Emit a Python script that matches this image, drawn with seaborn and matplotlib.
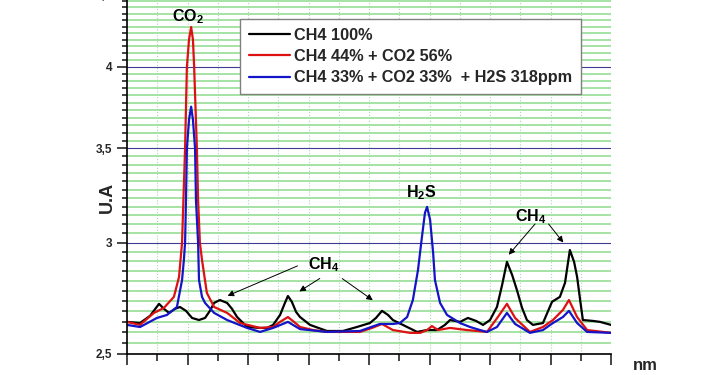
import numpy as np
import matplotlib
matplotlib.use("Agg")
import matplotlib.pyplot as plt
import matplotlib.ticker as mticker
import seaborn as sns

# ---- data (x in arbitrary nm units, y in U.A) ----
ch4_x = [0.00, 0.43, 0.76, 1.06, 1.22, 1.39, 1.59, 1.75, 1.95, 2.15, 2.38, 2.58,
         2.74, 2.88, 3.07, 3.31, 3.47, 3.64, 3.97, 4.40, 4.63, 4.83, 5.06, 5.22,
         5.32, 5.45, 5.59, 5.72, 6.05, 6.61, 7.14, 7.60, 8.03, 8.23, 8.43, 8.63,
         8.79, 9.12, 9.59, 9.92, 10.25, 10.51, 10.68, 11.01, 11.27, 11.54, 11.77,
         12.00, 12.23, 12.40, 12.56, 12.73, 12.89, 13.06, 13.22, 13.42, 13.75,
         14.05, 14.31, 14.48, 14.64, 14.78, 14.88, 14.98, 15.07, 15.41, 15.64, 16.00]
ch4_y = [2.635, 2.630, 2.661, 2.714, 2.692, 2.674, 2.692, 2.700, 2.683, 2.652, 2.643, 2.652,
         2.683, 2.718, 2.731, 2.718, 2.692, 2.656, 2.613, 2.609, 2.609, 2.622, 2.665, 2.718,
         2.749, 2.723, 2.678, 2.656, 2.622, 2.596, 2.596, 2.613, 2.630, 2.652, 2.683, 2.665,
         2.643, 2.622, 2.592, 2.600, 2.600, 2.622, 2.643, 2.635, 2.652, 2.639, 2.622,
         2.643, 2.700, 2.799, 2.907, 2.846, 2.776, 2.696, 2.643, 2.622, 2.630,
         2.723, 2.745, 2.809, 2.964, 2.907, 2.836, 2.731, 2.643, 2.639, 2.635, 2.622]

co2_x = [0.00, 0.43, 0.89, 1.22, 1.55, 1.72, 1.82, 1.92, 1.98, 2.05, 2.12, 2.18,
         2.22, 2.31, 2.35, 2.41, 2.48, 2.64, 2.88, 3.31, 3.74, 4.40, 4.83, 5.06,
         5.32, 5.52, 5.72, 6.15, 6.61, 7.70, 8.10, 8.43, 8.79, 9.36, 9.69, 9.92,
         10.08, 10.28, 10.68, 11.24, 11.90, 12.26, 12.56, 12.83, 13.32, 13.75,
         14.08, 14.41, 14.61, 14.88, 15.21, 16.00]
co2_y = [2.635, 2.622, 2.674, 2.696, 2.745, 2.836, 3.000, 3.500, 4.000, 4.183, 4.270, 4.183,
         4.000, 3.500, 3.217, 3.000, 2.916, 2.763, 2.700, 2.674, 2.630, 2.609, 2.613, 2.635,
         2.656, 2.635, 2.613, 2.600, 2.592, 2.592, 2.609, 2.626, 2.600, 2.588, 2.588, 2.600,
         2.617, 2.600, 2.609, 2.600, 2.592, 2.656, 2.714, 2.652, 2.592, 2.613,
         2.643, 2.687, 2.731, 2.656, 2.600, 2.588]

h2s_x = [0.00, 0.43, 0.99, 1.32, 1.65, 1.82, 1.88, 1.92, 1.95, 1.98, 2.05, 2.12,
         2.18, 2.25, 2.28, 2.35, 2.38, 2.48, 2.58, 2.88, 3.31, 3.97, 4.40, 4.83,
         5.32, 5.72, 6.61, 7.70, 8.36, 8.79, 9.02, 9.26, 9.45, 9.62, 9.75, 9.85,
         9.92, 10.02, 10.12, 10.18, 10.35, 10.58, 11.01, 11.34, 11.67, 11.90,
         12.23, 12.56, 12.83, 13.32, 13.75, 14.08, 14.41, 14.61, 14.88, 15.21, 16.00]
h2s_y = [2.622, 2.613, 2.652, 2.665, 2.700, 2.822, 2.916, 3.000, 3.217, 3.500, 3.669, 3.748,
         3.669, 3.500, 3.217, 3.000, 2.822, 2.745, 2.718, 2.674, 2.643, 2.609, 2.592, 2.609,
         2.635, 2.604, 2.592, 2.596, 2.626, 2.626, 2.630, 2.656, 2.731, 2.869, 3.028, 3.150,
         3.181, 3.114, 2.950, 2.822, 2.718, 2.665, 2.630, 2.613, 2.600, 2.592,
         2.613, 2.674, 2.626, 2.588, 2.600, 2.630, 2.656, 2.683, 2.630, 2.592, 2.588]

labels = ["CH4 100%", "CH4 44% + CO2 56%", "CH4 33% + CO2 33%  + H2S 318ppm"]
colors = ["black", "#dd1111", "#1414c8"]

y_major = [2.5, 3.0, 3.5, 4.0, 4.5]

# ---- style ----
sns.set_theme(style="white")
plt.rcParams['font.family'] = ['Liberation Sans', 'DejaVu Sans']
plt.rcParams['mathtext.fontset'] = 'custom'
plt.rcParams['mathtext.bf'] = 'Liberation Sans:bold'
plt.rcParams['mathtext.rm'] = 'Liberation Sans'

fig = plt.figure(figsize=(7.1, 3.75), dpi=100)
ax = fig.add_axes([127 / 710, 21 / 375, 484 / 710, 359 / 375])

for xs, ys, lab, col in zip([ch4_x, co2_x, h2s_x], [ch4_y, co2_y, h2s_y], labels, colors):
    sns.lineplot(x=xs, y=ys, ax=ax, color=col, lw=1.6, label=lab, estimator=None, sort=False)

ax.set_yscale('log')
ax.set_xlim(0, 16)
ax.set_ylim(2.5, 4.5)

# y ticks: majors every 0.5, ten minors in between
minors = []
for lo in y_major[:-1]:
    minors += [lo + k * 0.5 / 11 for k in range(1, 11)]
ax.yaxis.set_major_locator(mticker.FixedLocator(y_major))
ax.yaxis.set_minor_locator(mticker.FixedLocator(minors))
ax.yaxis.set_major_formatter(mticker.FuncFormatter(lambda v, _: f"{v:g}".replace('.', ',')))
ax.yaxis.set_minor_formatter(mticker.NullFormatter())

ax.xaxis.set_major_locator(mticker.MultipleLocator(2))
ax.xaxis.set_minor_locator(mticker.MultipleLocator(1))

ax.set_axisbelow(True)
ax.yaxis.grid(True, which='minor', color='#9ee09e', lw=1.3)
ax.yaxis.grid(True, which='major', color='#3c3c96', lw=0.8)
ax.xaxis.grid(True, which='both', color='#a8d8a8', lw=0.8, ls=':')

ax.tick_params(axis='x', which='major', direction='out', length=8, width=1.2,
               bottom=True, labelbottom=False)
ax.tick_params(axis='x', which='minor', direction='out', length=5, width=1.2, bottom=True)
ax.tick_params(axis='y', which='major', direction='out', length=7, width=1.2, left=True,
               pad=3.5, labelsize=8.5)
ax.tick_params(axis='y', which='minor', direction='out', length=3.5, width=1.2, left=True)
for lbl in ax.get_yticklabels():
    lbl.set_fontweight('bold')

for s in ['top', 'right']:
    ax.spines[s].set_visible(False)
for s in ['left', 'bottom']:
    ax.spines[s].set_color('black')
    ax.spines[s].set_linewidth(1.2)

ax.set_ylabel('U.A', fontsize=13, fontweight='bold', va='center', ha='center')
ax.yaxis.set_label_coords(-0.041, 0.435)
ax.set_xlabel('nm', fontsize=12, fontweight='bold', va='center', ha='center')
ax.xaxis.set_label_coords(1.07, -0.033)

leg = ax.legend(loc='upper left', bbox_to_anchor=(240 / 710, 1 - 19 / 375),
                bbox_transform=fig.transFigure, prop={'weight': 'bold', 'size': 11.7},
                handlelength=2.5, handletextpad=0.25, labelspacing=0.38, borderpad=0.55,
                borderaxespad=0, fancybox=False, framealpha=1, edgecolor='#808080')
leg.get_frame().set_linewidth(1.0)

# ---- peak annotations ----
tkw = dict(ha='center', va='center', fontsize=11.5, color='black')
ax.text(2.02, 4.345, r'$\mathbf{CO_2}$', **tkw)
ax.text(9.72, 3.255, r'$\mathbf{H_2S}$', **tkw)
ax.text(6.51, 2.893, r'$\mathbf{CH_4}$', **tkw)
ax.text(13.36, 3.129, r'$\mathbf{CH_4}$', **tkw)

akw = dict(arrowstyle='-|>', color='black', lw=0.7, mutation_scale=9)
for tail, head in [((5.72, 2.893), (3.24, 2.745)),
                   ((6.45, 2.836), (5.62, 2.763)),
                   ((7.04, 2.836), (8.20, 2.723)),
                   ((13.55, 3.104), (12.56, 2.931)),
                   ((13.88, 3.104), (14.48, 2.990))]:
    ax.annotate('', xy=head, xytext=tail, arrowprops=akw)

fig.savefig('out.png', dpi=100)
